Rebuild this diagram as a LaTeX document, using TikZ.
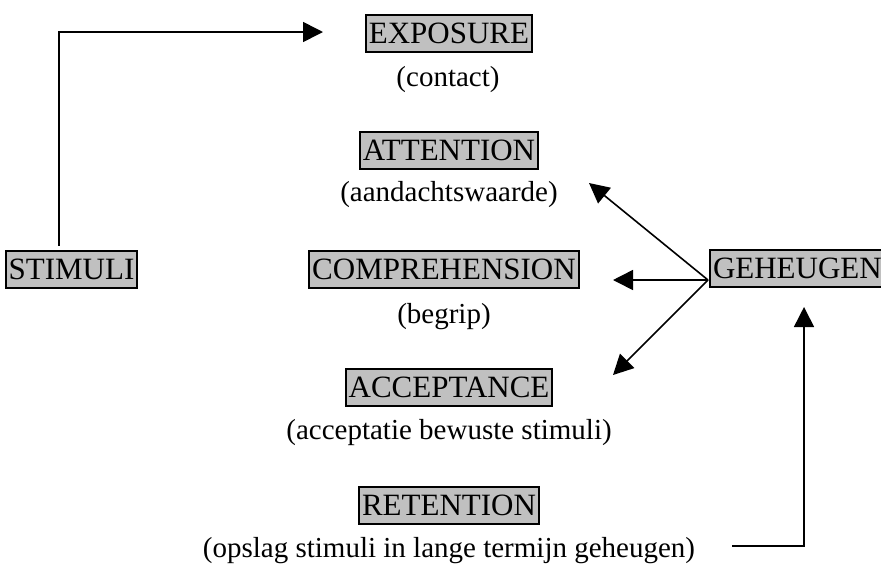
\documentclass[tikz,border=0pt]{standalone}
\usepackage{fontspec}
\setmainfont{Liberation Serif}
\usetikzlibrary{arrows.meta}
\definecolor{boxgray}{RGB}{192,192,192}
\tikzset{
  stage/.style={draw, line width=1pt, fill=boxgray, font=\fontsize{15.5}{18}\selectfont,
    inner xsep=1.5pt, inner ysep=0pt, minimum height=18.5pt},
  note/.style={inner sep=0pt},
}
\begin{document}
\begin{tikzpicture}[x=0.5pt, y=-0.5pt, font=\fontsize{14.5}{17}\selectfont,
    >={Triangle[length=10pt, width=10pt]}, line width=0.8pt]
            \clip (0, 0) rectangle (881, 563);

            \node[stage] (stimuli) at (71.5, 269) {STIMULI};
            \node[stage] (exposure) at (449, 33.5) {EXPOSURE};
            \node[note] (contact) at (448, 80) {(contact)};
            \node[stage] (attention) at (449, 150.5) {ATTENTION};
            \node[note] (aandacht) at (449, 195) {(aandachtswaarde)};
            \node[stage] (comprehension) at (444, 269) {COMPREHENSION};
            \node[note] (begrip) at (444, 317) {(begrip)};
            \node[stage] (acceptance) at (449, 387) {ACCEPTANCE};
            \node[note] (acceptatie) at (449, 433) {(acceptatie bewuste stimuli)};
            \node[stage] (retention) at (449, 505) {RETENTION};
            \node[note] (opslag) at (449, 551) {(opslag stimuli in lange termijn geheugen)};
            \node[stage, anchor=west] (geheugen) at (709, 268.5) {GEHEUGEN};

            \coordinate (hub) at (708, 280);
            \coordinate (toatt) at (589, 183);
            \coordinate (tocomp) at (613, 280);
            \coordinate (toacc) at (613, 375);
            \coordinate (expin) at (323, 32);
            \coordinate (retout) at (732, 546);
            \coordinate (geheugenin) at (804, 307);

            \draw[->] ([xshift=-6.25pt, yshift=2pt]stimuli.north) |- (expin);
            \draw[->] (hub) -- (toatt);
            \draw[->] (hub) -- (tocomp);
            \draw[->] (hub) -- (toacc);
            \draw[->] (retout) -| (geheugenin);
        \end{tikzpicture}
\end{document}
